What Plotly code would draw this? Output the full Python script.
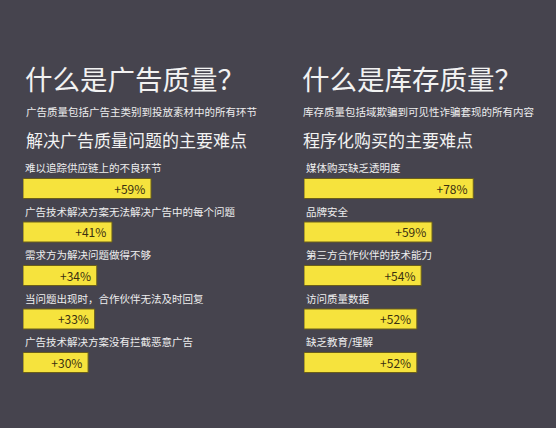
import plotly.graph_objects as go

# left panel: ad quality
left_title = "什么是广告质量？"
left_sub = "广告质量包括广告主类别到投放素材中的所有环节"
left_head = "解决广告质量问题的主要难点"
left_labels = [
    "难以追踪供应链上的不良环节",
    "广告技术解决方案无法解决广告中的每个问题",
    "需求方为解决问题做得不够",
    "当问题出现时，合作伙伴无法及时回复",
    "广告技术解决方案没有拦截恶意广告",
]
left_values = [59, 41, 34, 33, 30]

# right panel: inventory quality
right_title = "什么是库存质量？"
right_sub = "库存质量包括域欺骗到可见性诈骗套现的所有内容"
right_head = "程序化购买的主要难点"
right_labels = [
    "媒体购买缺乏透明度",
    "品牌安全",
    "第三方合作伙伴的技术能力",
    "访问质量数据",
    "缺乏教育/理解",
]
right_values = [78, 59, 54, 52, 52]

BG = "#46444e"
YELLOW = "#f6e33d"
FONT = "Noto Sans CJK SC"
W, H = 556, 428

fig = go.Figure()

for i, (labels, values) in enumerate([(left_labels, left_values), (right_labels, right_values)]):
    ax = "" if i == 0 else "2"
    fig.add_trace(go.Bar(
        x=values,
        y=labels,
        orientation="h",
        marker=dict(color=YELLOW, line=dict(color="#6b5f1a", width=1)),
        text=[f"+{v}%\u00a0" for v in values],
        textposition="inside",
        insidetextanchor="end",
        textfont=dict(color="#3a3010", size=12, family=FONT),
        constraintext="none",
        xaxis="x" + ax,
        yaxis="y" + ax,
        hoverinfo="skip",
    ))
    for lab in labels:
        fig.add_annotation(
            x=0, y=lab, xref="x" + ax, yref="y" + ax,
            text=lab, showarrow=False, xanchor="left", yanchor="middle",
            xshift=0, yshift=21,
            font=dict(color="#eeeeee", size=10.5, family=FONT),
        )

axis_common = dict(range=[0, 100], visible=False, fixedrange=True)
y_common = dict(categoryorder="array", range=[4.5, -0.5], visible=False,
                domain=[(H - 384.25) / H, (H - 166.75) / H])

fig.update_layout(
    width=W, height=H,
    margin=dict(l=0, r=0, t=0, b=0),
    paper_bgcolor=BG, plot_bgcolor=BG,
    showlegend=False,
    bargap=0.54,
    xaxis=dict(domain=[23 / W, 240 / W], anchor="y", **axis_common),
    xaxis2=dict(domain=[304 / W, 521 / W], anchor="y2", **axis_common),
    yaxis=dict(anchor="x", categoryarray=left_labels, **y_common),
    yaxis2=dict(anchor="x2", categoryarray=right_labels, **y_common),
)

# headings
for x0, title, sub, head in [(23, left_title, left_sub, left_head),
                             (300, right_title, right_sub, right_head)]:
    fig.add_annotation(x=x0 / W, y=1 - 78 / H, xref="paper", yref="paper",
                       text=title, showarrow=False, xanchor="left", yanchor="middle",
                       font=dict(color="#f2f2f2", size=27.5, family=FONT))
    fig.add_annotation(x=(x0 + 1) / W, y=1 - 111 / H, xref="paper", yref="paper",
                       text=sub, showarrow=False, xanchor="left", yanchor="middle",
                       font=dict(color="#eeeeee", size=10.5, family=FONT))
    fig.add_annotation(x=(x0 + 1) / W, y=1 - 139 / H, xref="paper", yref="paper",
                       text=head, showarrow=False, xanchor="left", yanchor="middle",
                       font=dict(color="#f2f2f2", size=17, family=FONT))

fig.write_html("out.html", config={"displayModeBar": False},
               post_script="document.body.style.margin='0';")
